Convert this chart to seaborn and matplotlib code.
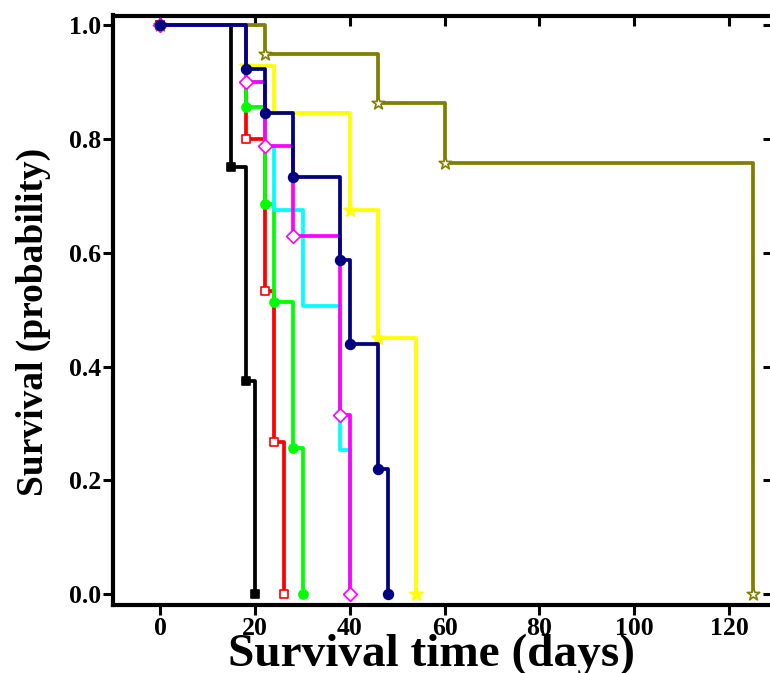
import matplotlib
matplotlib.use("Agg")
import matplotlib.pyplot as plt
import seaborn as sns
import pandas as pd

# ---- data ----
black_t = [0, 15, 18, 20]
black_s = [1.0, 0.75, 0.375, 0.0]
red_t = [0, 18, 22, 24, 26]
red_s = [1.0, 0.8, 0.533, 0.267, 0.0]
green_t = [0, 18, 22, 24, 28, 30]
green_s = [1.0, 0.857, 0.686, 0.514, 0.257, 0.0]
cyan_t = [0, 18, 22, 24, 30, 38, 40]
cyan_s = [1.0, 0.9, 0.788, 0.675, 0.506, 0.253, 0.0]
yellow_t = [0, 18, 24, 40, 46, 54]
yellow_s = [1.0, 0.929, 0.845, 0.676, 0.451, 0.0]
yellow_marked = [0, 18, 40, 46, 54]
olive_t = [0, 22, 46, 60, 125]
olive_s = [1.0, 0.95, 0.864, 0.757, 0.0]
magenta_t = [0, 18, 22, 28, 38, 40]
magenta_s = [1.0, 0.9, 0.788, 0.63, 0.315, 0.0]
navy_t = [0, 18, 22, 28, 38, 40, 46, 48]
navy_s = [1.0, 0.923, 0.846, 0.733, 0.587, 0.44, 0.22, 0.0]

x_ticks = [0, 20, 40, 60, 80, 100, 120]
y_ticks = [0.0, 0.2, 0.4, 0.6, 0.8, 1.0]

sns.set_theme(style="ticks")
plt.rcParams['font.family'] = ['Liberation Serif', 'DejaVu Serif']
plt.rcParams['font.weight'] = 'bold'
plt.rcParams['text.color'] = 'black'
plt.rcParams['axes.labelcolor'] = 'black'
plt.rcParams['xtick.color'] = 'black'
plt.rcParams['ytick.color'] = 'black'

fig = plt.figure(figsize=(7.7, 6.73), dpi=100)
ax = fig.add_axes([113/770, (673-605)/673, 660/770, (605-15.5)/673])

# (times, surv, color, marker, size, facecolor, marked-times)
series = [
    (black_t, black_s, "#000000", "s", 5.5, "#000000", None),
    (red_t, red_s, "#FF0000", "s", 5.8, "white", None),
    (green_t, green_s, "#00FF00", "o", 6.5, "#00FF00", None),
    (cyan_t, cyan_s, "#00FFFF", None, 0, None, None),
    (yellow_t, yellow_s, "#FFFF00", "*", 10, "#FFFF00", yellow_marked),
    (olive_t, olive_s, "#808000", "*", 9.5, "white", None),
    (magenta_t, magenta_s, "#FF00FF", "D", 7, "white", None),
    (navy_t, navy_s, "#000080", "o", 7, "#000080", None),
]

for z, (t, s, col, mk, ms, fc, marked) in enumerate(series):
    df = pd.DataFrame({"t": t, "s": s})
    sns.lineplot(data=df, x="t", y="s", ax=ax, color=col, linewidth=2.7,
                 drawstyle="steps-post", estimator=None, sort=False,
                 zorder=3 + 2 * z)
    if mk is not None:
        mdf = df if marked is None else df[df["t"].isin(marked)]
        sns.scatterplot(data=mdf, x="t", y="s", ax=ax, marker=mk,
                        s=ms ** 2, color=fc, edgecolor=col, linewidth=1.2,
                        zorder=4 + 2 * z, clip_on=False)

ax.set_xlim(-10, 129.3)
ax.set_ylim(-0.019, 1.017)
ax.set_xticks(x_ticks)
ax.set_xticklabels([str(v) for v in x_ticks])
ax.set_yticks(y_ticks)
ax.set_yticklabels([f"{v:.1f}" for v in y_ticks])

for sp in ax.spines.values():
    sp.set_visible(True)
    sp.set_linewidth(3.0)
    sp.set_color("black")

ax.tick_params(axis="both", which="major", direction="out", length=7,
               width=2.2, color="black", labelsize=18.5, pad=1.5,
               labelcolor="black")
ax.tick_params(top=True, right=True, labeltop=False, labelright=False)
# inward ticks for top and right
for tl in ax.xaxis.get_ticklines()[1::2]:
    tl.set_marker(3)  # TICKDOWN
for tl in ax.yaxis.get_ticklines()[1::2]:
    tl.set_marker(0)  # TICKLEFT
for lab in ax.get_xticklabels() + ax.get_yticklabels():
    lab.set_fontweight("bold")
    lab.set_color("black")

ax.set_xlabel("Survival time (days)", fontsize=34, fontweight="bold",
              color="black")
ax.set_ylabel("Survival (probability)", fontsize=27, fontweight="bold",
              color="black")
ax.xaxis.label.set_va("baseline")
ax.xaxis.set_label_coords(0.482, (605 - 666) / 589.5)
ax.yaxis.label.set_va("center")
ax.yaxis.set_label_coords((33 - 113) / 660, 0.48)

ax.grid(False)
fig.savefig("out.png", dpi=100)
